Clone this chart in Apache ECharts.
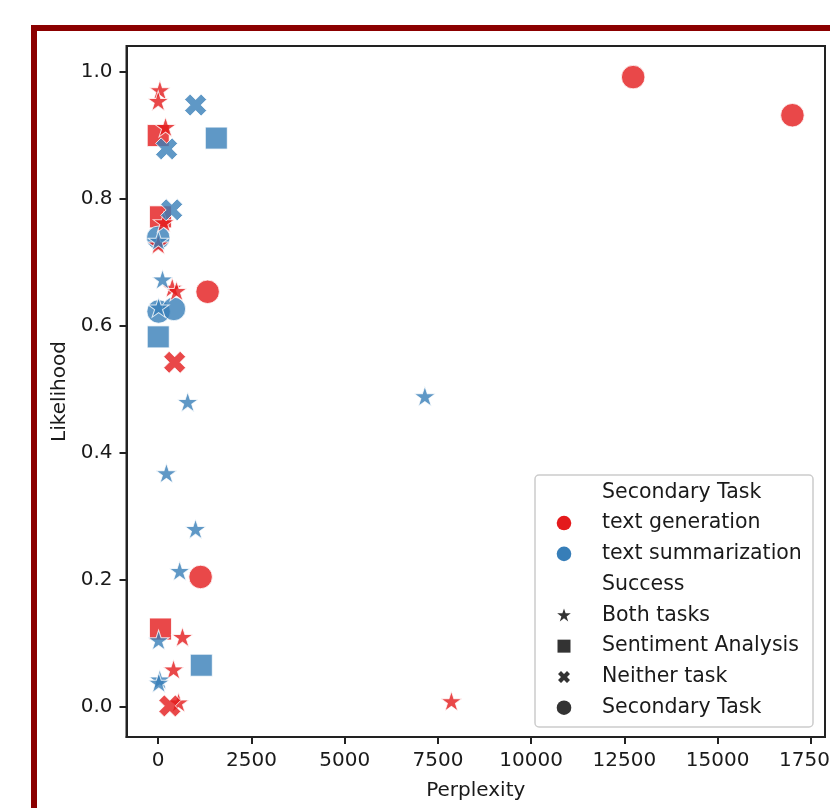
<!DOCTYPE html>
<html>
<head>
<meta charset="utf-8">
<script src="https://cdn.jsdelivr.net/npm/echarts@6/dist/echarts.min.js"></script>
<style>
html,body{margin:0;padding:0;background:#fff;overflow:hidden;}
#chart{width:830px;height:808px;}
</style>
</head>
<body>
<div id="chart"></div>
<script>
// ---- data (Perplexity, Likelihood) ----
const genCircle = [[12736,0.992],[17006,0.932],[1324,0.654],[1136,0.205]];
const sumCircle = [[0,0.739],[10,0.623],[420,0.627]];
const genSquare = [[0,0.900],[60,0.772],[60,0.123]];
const sumSquare = [[1557,0.896],[0,0.583],[1155,0.066]];
const genX = [[440,0.543],[311,0.002]];
const sumX = [[1003,0.948],[225,0.879],[360,0.783]];
const genStar = [[45,0.970],[0,0.953],[196,0.912],[150,0.762],[0,0.727],[376,0.659],[491,0.654],[650,0.109],[410,0.058],[545,0.006],[7862,0.008]];
const sumStar = [[5,0.733],[115,0.672],[10,0.628],[790,0.479],[7150,0.488],[220,0.367],[1000,0.279],[575,0.213],[10,0.104],[40,0.042],[15,0.037]];

const xTicks = [0,2500,5000,7500,10000,12500,15000,17500];
const yTicks = [0,0.2,0.4,0.6,0.8,1.0];

const legendLabels = ['Secondary Task','text generation','text summarization','Success','Both tasks','Sentiment Analysis','Neither task','Secondary Task'];
const legendKinds  = ['none','circle','circle','none','star','square','x','circle'];
const legendColors = [null,'#e41a1c','#377eb8',null,'#333333','#333333','#333333','#333333'];

// ---- symbol shapes ----
function starPts(){
  const p=[];
  for(let k=0;k<10;k++){
    const a=(-90+k*36)*Math.PI/180, r=(k%2===0)?100:38.2;
    p.push([r*Math.cos(a), r*Math.sin(a)]);
  }
  return p;
}
function xPts(){
  const base=[[-1,-3],[1,-3],[1,-1],[3,-1],[3,1],[1,1],[1,3],[-1,3],[-1,1],[-3,1],[-3,-1],[-1,-1]];
  const c=Math.cos(Math.PI/4), s=Math.sin(Math.PI/4);
  return base.map(([x,y])=>[ (x*c - y*s)*20, (x*s + y*c)*20 ]);
}
function toPath(pts){
  return 'M'+pts.map(p=>p[0].toFixed(2)+' '+p[1].toFixed(2)).join(' L')+' Z';
}
const STAR_PTS = starPts(), X_PTS = xPts();
const STAR = toPath(STAR_PTS);
const XSHP = toPath(X_PTS);
function fitPts(pts, cx, cy, w, h){
  const xs=pts.map(p=>p[0]), ys=pts.map(p=>p[1]);
  const x0=Math.min(...xs), x1=Math.max(...xs), y0=Math.min(...ys), y1=Math.max(...ys);
  return pts.map(([x,y])=>[cx-w/2+(x-x0)/(x1-x0)*w, cy-h/2+(y-y0)/(y1-y0)*h]);
}

const RED = '#e41a1c', BLUE = '#377eb8';
const FONT = 'DejaVu Sans';
const TXT = '#1a1a1a';

function mk(data, color, kind){
  const o = {type:'scatter', data:data, itemStyle:{color:color, opacity:0.8, borderColor:'#ffffff', borderWidth:1}};
  if(kind==='circle'){o.symbol='circle'; o.symbolSize=23.5;}
  if(kind==='square'){o.symbol='rect'; o.symbolSize=22;}
  if(kind==='x'){o.symbol='path://'+XSHP; o.symbolSize=22;}
  if(kind==='star'){o.symbol='path://'+STAR; o.symbolSize=[21,20]; o.symbolOffset=[0,-1];}
  return o;
}

const series = [
  mk(genSquare,RED,'square'), mk(sumSquare,BLUE,'square'),
  mk(genCircle,RED,'circle'), mk(sumCircle,BLUE,'circle'),
  mk(genStar,RED,'star'), mk(sumStar,BLUE,'star'),
  mk(genX,RED,'x'), mk(sumX,BLUE,'x')
];

// ---- legend as graphic ----
const LX=535, LY=475, LW=278, LH=252;
const rowY0 = 492.3, rowStep = 30.77;
const legendEls = [{type:'rect', shape:{x:LX,y:LY,width:LW,height:LH,r:4}, style:{fill:'rgba(255,255,255,0.85)', stroke:'#cccccc', lineWidth:1.5}, z:10}];
legendLabels.forEach((lab,i)=>{
  const cy = rowY0 + i*rowStep, cx = 564;
  legendEls.push({type:'text', x:602, y:cy, style:{text:lab, fill:TXT, font:'20.5px "'+FONT+'"', verticalAlign:'middle', align:'left'}, z:11});
  const k=legendKinds[i], col=legendColors[i];
  if(k==='circle') legendEls.push({type:'circle', shape:{cx:cx,cy:cy,r:7.3}, style:{fill:col}, z:11});
  if(k==='square') legendEls.push({type:'rect', shape:{x:cx-6.5,y:cy-6.5,width:13,height:13}, style:{fill:col}, z:11});
  if(k==='star') legendEls.push({type:'polygon', shape:{points:fitPts(STAR_PTS,cx,cy-0.5,13.6,13)}, style:{fill:col}, z:11});
  if(k==='x') legendEls.push({type:'polygon', shape:{points:fitPts(X_PTS,cx,cy,12,12)}, style:{fill:col}, z:11});
});

const chart = echarts.init(document.getElementById('chart'), null, {renderer:'canvas'});
chart.setOption({
  animation:false,
  backgroundColor:'#ffffff',
  graphic:[
    {type:'rect', shape:{x:34,y:28,width:2000,height:2000}, style:{fill:null, stroke:'#8b0000', lineWidth:6}, z:-10},
    ...legendEls
  ],
  grid:{left:126.5, top:46, right:5, bottom:71, show:true, borderColor:'#222', borderWidth:2, backgroundColor:'transparent', containLabel:false, outerBoundsMode:'none'},
  xAxis:{
    type:'value', min:-851, max:17880,
    name:'Perplexity', nameLocation:'middle', nameGap:44,
    nameTextStyle:{fontFamily:FONT, fontSize:20, color:TXT},
    axisLine:{show:true, onZero:false, lineStyle:{color:'#222', width:2}},
    axisTick:{show:true, length:7, lineStyle:{color:'#222', width:2}, customValues:xTicks},
    axisLabel:{fontFamily:FONT, fontSize:20, color:TXT, margin:14, customValues:xTicks, hideOverlap:false, formatter:v=>String(v)},
    splitLine:{show:false}
  },
  yAxis:{
    type:'value', min:-0.047, max:1.041,
    name:'Likelihood', nameLocation:'middle', nameGap:53, nameRotate:90,
    nameTextStyle:{fontFamily:FONT, fontSize:20, color:TXT},
    axisLine:{show:true, onZero:false, lineStyle:{color:'#222', width:2}},
    axisTick:{show:true, length:7, lineStyle:{color:'#222', width:2}, customValues:yTicks},
    axisLabel:{fontFamily:FONT, fontSize:20, color:TXT, margin:14, customValues:yTicks, formatter:v=>v.toFixed(1)},
    splitLine:{show:false}
  },
  series:series
});
</script>
</body>
</html>
